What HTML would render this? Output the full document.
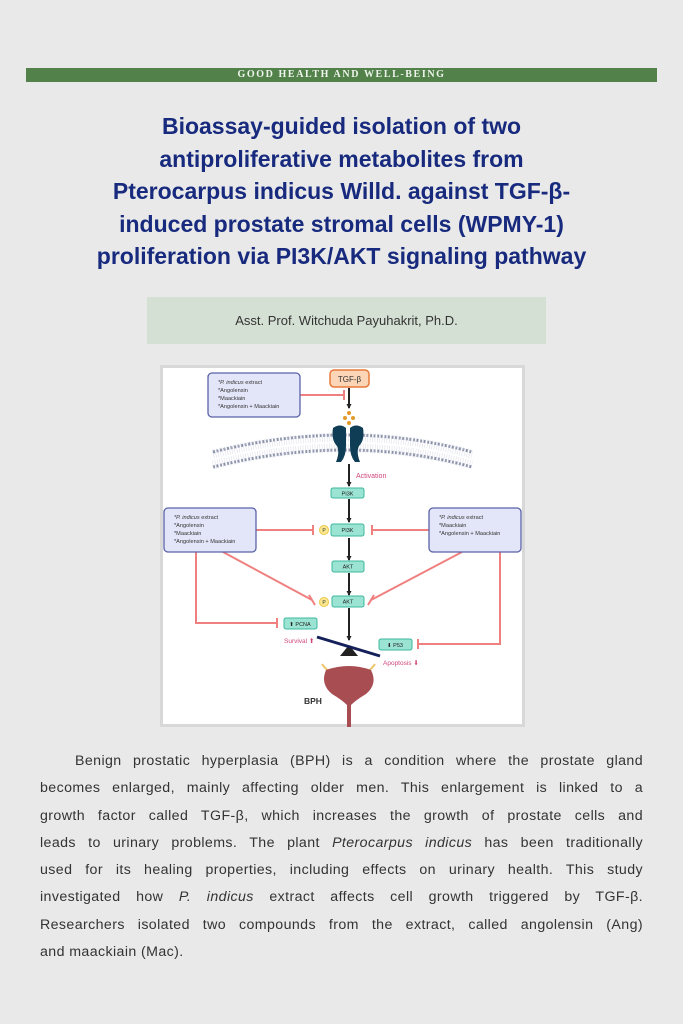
<!DOCTYPE html>
<html><head><meta charset="utf-8">
<style>
*{margin:0;padding:0;box-sizing:border-box}
html,body{width:683px;height:1024px;background:#e9e9e9;overflow:hidden;position:relative;font-family:"Liberation Sans",sans-serif}
.bar{position:absolute;left:26px;top:68px;width:631px;height:14px;background:#52824a;color:#f0f4ee;font-family:"Liberation Serif",serif;font-size:10px;letter-spacing:1.6px;text-align:center;line-height:14px;font-weight:bold}
.title{position:absolute;left:0;width:683px;top:110px;text-align:center;color:#172a7e;font-weight:bold;font-size:23px;line-height:32.5px}
.title div{white-space:nowrap}
.author{position:absolute;left:147px;top:297px;width:399px;height:47px;background:#d5e0d4;text-align:center;line-height:47px;font-size:13px;color:#333}
.fig{position:absolute;left:160px;top:365px;width:365px;height:362px;background:#fff;border:3px solid #d8d8d8}
.body{position:absolute;left:40px;top:748px;width:603px;font-size:14.2px;color:#333;line-height:27.3px;letter-spacing:0.4px}
.body div{text-align:justify;text-align-last:justify;white-space:nowrap;overflow:visible}
.body div.l{text-align-last:left}
</style></head><body>
<div class="bar">GOOD HEALTH AND WELL-BEING</div>
<div class="title">
<div>Bioassay-guided isolation of two</div>
<div>antiproliferative metabolites from</div>
<div>Pterocarpus indicus Willd. against TGF-β-</div>
<div>induced prostate stromal cells (WPMY-1)</div>
<div>proliferation via PI3K/AKT signaling pathway</div>
</div>
<div class="author">Asst. Prof. Witchuda Payuhakrit, Ph.D.</div>
<div class="fig"></div>
<svg style="position:absolute;left:0;top:0" width="683" height="1024" font-family="Liberation Sans, sans-serif">
<defs><marker id="ar" markerUnits="userSpaceOnUse" markerWidth="5" markerHeight="5" refX="4" refY="2.5" orient="auto"><path d="M0,0 L5,2.5 L0,5 z" fill="#222"/></marker></defs>
<path d="M213,452 Q348,418 472,452" stroke="#8a92a8" stroke-width="3" fill="none" stroke-dasharray="2 1.6"/>
<path d="M213,467 Q348,433 472,467" stroke="#8a92a8" stroke-width="3" fill="none" stroke-dasharray="2 1.6"/>
<path d="M213,454 Q348,420 472,454 M213,465 Q348,431 472,465" stroke="#ccd" stroke-width="9" fill="none" stroke-dasharray="0.6 1.8" opacity="0.6"/>
<path d="M333,428 Q340,423 346,428 L346,446 Q346,456 341,462 L336,462 Q340,452 337,446 Q331,440 333,428z" fill="#0f3d55"/>
<path d="M363,428 Q356,423 350,428 L350,446 Q350,456 355,462 L360,462 Q356,452 359,446 Q365,440 363,428z" fill="#0f3d55"/>
<g fill="#e39a2a"><circle cx="349" cy="413" r="2"/><circle cx="345" cy="418" r="2"/><circle cx="353" cy="418" r="2"/><circle cx="349" cy="423" r="2"/></g>
<g stroke="#222" stroke-width="2" marker-end="url(#ar)">
<line x1="349" y1="388" x2="349" y2="408"/>
<line x1="349" y1="464" x2="349" y2="486"/>
<line x1="349" y1="499" x2="349" y2="522"/>
<line x1="349" y1="538" x2="349" y2="560"/>
<line x1="349" y1="573" x2="349" y2="595"/>
<line x1="349" y1="608" x2="349" y2="640"/>
</g>
<text x="356" y="478" font-size="7" fill="#d0467a">Activation</text>
<rect x="330" y="370" width="39" height="17" rx="4" fill="#fbd5b5" stroke="#e8783a" stroke-width="1.5"/>
<text x="349.5" y="382" font-size="8" text-anchor="middle" fill="#333">TGF-β</text>
<g stroke="#f08080" stroke-width="2" fill="none">
<path d="M300,395 H344 M344,390 V400"/>
<path d="M256,530 H313 M313,525 V535"/>
<path d="M429,530 H372 M372,525 V535"/>
<path d="M223,552 L312,600 M309,595 L315,605"/>
<path d="M462,552 L371,600 M368,605 L374,595"/>
<path d="M196,552 V623 H277 M277,618 V628"/>
<path d="M500,552 V644 H418 M418,639 V649"/>
</g>
<g fill="#e3e6f8" stroke="#5a62a8" stroke-width="1.3">
<rect x="208" y="373" width="92" height="44" rx="4"/>
<rect x="164" y="508" width="92" height="44" rx="4"/>
<rect x="429" y="508" width="92" height="44" rx="4"/>
</g>
<g font-size="5.6" fill="#333">
<text x="218" y="384"><tspan font-style="italic">*P. indicus</tspan> extract</text>
<text x="218" y="392">*Angolensin</text><text x="218" y="400">*Maackiain</text><text x="218" y="408">*Angolensin + Maackiain</text>
<text x="174" y="519"><tspan font-style="italic">*P. indicus</tspan> extract</text>
<text x="174" y="527">*Angolensin</text><text x="174" y="535">*Maackiain</text><text x="174" y="543">*Angolensin + Maackiain</text>
<text x="439" y="519"><tspan font-style="italic">*P. indicus</tspan> extract</text>
<text x="439" y="527">*Maackiain</text><text x="439" y="535">*Angolensin + Maackiain</text>
</g>
<g fill="#9be3d3" stroke="#3bb89c" stroke-width="1">
<rect x="331" y="488" width="33" height="10" rx="2"/>
<rect x="331" y="524" width="33" height="12" rx="2"/>
<rect x="332" y="561" width="32" height="11" rx="2"/>
<rect x="332" y="596" width="32" height="11" rx="2"/>
<rect x="284" y="618" width="33" height="11" rx="2"/>
<rect x="379" y="639" width="33" height="11" rx="2"/>
</g>
<g font-size="5.5" fill="#222" text-anchor="middle">
<text x="347.5" y="495.5">PI3K</text><text x="347.5" y="532">PI3K</text>
<text x="348" y="568.5">AKT</text><text x="348" y="603.5">AKT</text>
<text x="300" y="626">⬆ PCNA</text><text x="395" y="647">⬇ P53</text>
</g>
<g fill="#fbe88f" stroke="#e8c84a" stroke-width="1"><circle cx="324" cy="530" r="4.5"/><circle cx="324" cy="602" r="4.5"/></g>
<g font-size="5" text-anchor="middle" fill="#333"><text x="324" y="532">P</text><text x="324" y="604">P</text></g>
<polygon points="349,645 340,656 358,656" fill="#222"/>
<line x1="317" y1="637" x2="380" y2="656" stroke="#15205a" stroke-width="3"/>
<text x="284" y="643" font-size="6.5" fill="#d0467a">Survival ⬆</text>
<text x="383" y="665" font-size="6.5" fill="#d0467a">Apoptosis ⬇</text>
<path d="M322,664 Q326,670 331,672 M375,664 Q371,670 366,672" stroke="#ecc46a" stroke-width="2" fill="none"/>
<path d="M326,670 Q349,662 371,670 Q378,684 366,694 Q356,700 351,705 L351,727 L347,727 L347,705 Q342,700 332,694 Q320,684 326,670z" fill="#a84d52"/>
<text x="304" y="704" font-size="8.5" font-weight="bold" fill="#333">BPH</text>
</svg>
<div class="body">
<div style="padding-left:35px">Benign prostatic hyperplasia (BPH) is a condition where the prostate gland</div>
<div>becomes enlarged, mainly affecting older men. This enlargement is linked to a</div>
<div>growth factor called TGF-β, which increases the growth of prostate cells and</div>
<div>leads to urinary problems. The plant <i>Pterocarpus indicus</i> has been traditionally</div>
<div>used for its healing properties, including effects on urinary health. This study</div>
<div>investigated how <i>P. indicus</i> extract affects cell growth triggered by TGF-β.</div>
<div>Researchers isolated two compounds from the extract, called angolensin (Ang)</div>
<div class="l">and maackiain (Mac).</div>
</div>
</body></html>
